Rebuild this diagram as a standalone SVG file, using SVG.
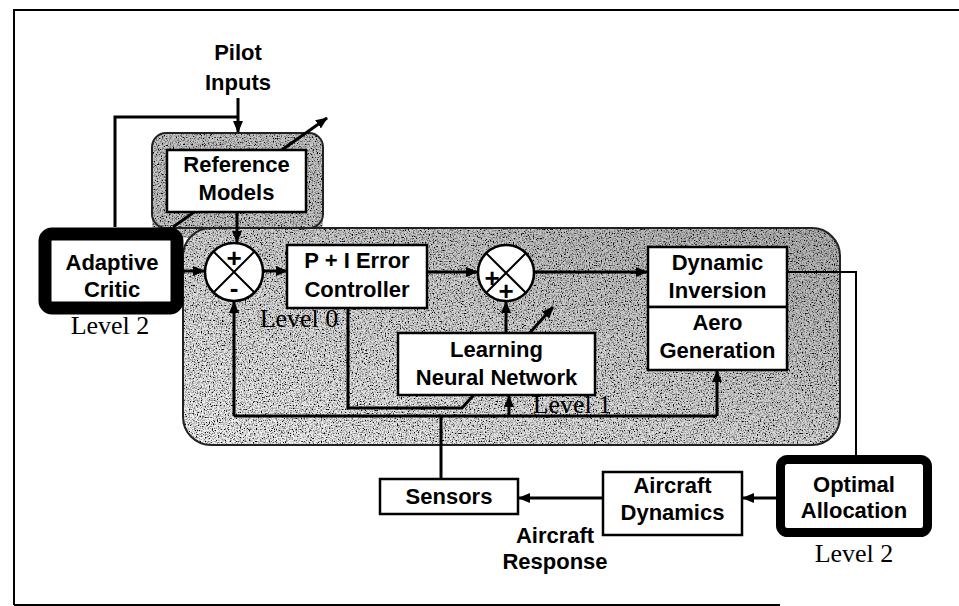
<svg xmlns="http://www.w3.org/2000/svg" width="959" height="606" viewBox="0 0 959 606">
<defs>
<style>
.lbl{font-family:"Liberation Sans",Arial,sans-serif;font-weight:bold;font-size:22px;fill:#000;text-anchor:middle}
.lvl{font-family:"Liberation Serif","Times New Roman",serif;font-size:26px;fill:#000;text-anchor:middle}
.box{fill:#fff;stroke:#000;stroke-width:2.5}
.thick{fill:#fff;stroke:#000;stroke-linejoin:round}
.ln{fill:none;stroke:#000;stroke-width:3}
.thin{fill:none;stroke:#000;stroke-width:2}
.area{stroke:none}
.edge{fill:none;stroke:#222;stroke-width:2}
.sign{font-family:"Liberation Sans",Arial,sans-serif;font-weight:bold;font-size:26px;fill:#000;text-anchor:middle}
</style>
<linearGradient id="shade" x1="0" y1="1" x2="1" y2="0">
<stop offset="0" stop-color="#f6f6f6"/>
<stop offset="0.45" stop-color="#dcdcdc"/>
<stop offset="1" stop-color="#b2b2b2"/>
</linearGradient>
<filter id="grain" x="0" y="0" width="1" height="1">
<feTurbulence type="fractalNoise" baseFrequency="0.75" numOctaves="2" seed="5" result="t"/>
<feColorMatrix in="t" type="matrix" values="1 0 0 0 0 1 0 0 0 0 1 0 0 0 0 0 0 0 0 1" result="g"/>
<feComponentTransfer in="g" result="c"><feFuncR type="linear" slope="3.2" intercept="-0.85"/><feFuncG type="linear" slope="3.2" intercept="-0.85"/><feFuncB type="linear" slope="3.2" intercept="-0.85"/></feComponentTransfer>
<feBlend in="SourceGraphic" in2="c" mode="multiply" result="b"/>
<feComposite in="b" in2="SourceGraphic" operator="in"/>
</filter>
<marker id="ah" markerWidth="12" markerHeight="10" refX="11" refY="5" orient="auto" markerUnits="userSpaceOnUse">
<path d="M0,0 L12,5 L0,10 z" fill="#000"/>
</marker>
</defs>
<rect width="959" height="606" fill="#fff"/>
<g id="frame" class="thin">
<path d="M14,605 V10 H959"/>
<path d="M14,605 H780"/>
</g>
<g id="containers">
<rect class="area" x="152" y="133" width="171" height="105" rx="14" fill="#c8c8c8" filter="url(#grain)"/>
<rect class="area" x="183" y="228" width="657" height="217" rx="28" fill="url(#shade)" filter="url(#grain)"/>
<rect class="edge" x="152" y="133" width="171" height="95" rx="14"/>
<rect class="edge" x="183" y="228" width="657" height="217" rx="28"/>
</g>
<g id="connectors">
<path class="ln" d="M238,98 V132" marker-end="url(#ah)"/>
<path class="ln" d="M115,227 V117 H238"/>
<path class="ln" d="M237,212 V242" marker-end="url(#ah)"/>
<path class="ln" d="M183,271 H204" marker-end="url(#ah)"/>
<path class="ln" d="M263,271 H287" marker-end="url(#ah)"/>
<path class="ln" d="M427,272 H477" marker-end="url(#ah)"/>
<path class="ln" d="M534,272 H647" marker-end="url(#ah)"/>
<path class="thin" d="M787,272 H856 V455"/>
<path class="ln" d="M776,498 H743" marker-end="url(#ah)"/>
<path class="ln" d="M603,498 H519" marker-end="url(#ah)"/>
<path class="ln" d="M441,479 V416"/>
<path class="ln" d="M234,416 H717"/>
<path class="ln" d="M234,416 V302" marker-end="url(#ah)"/>
<path class="ln" d="M509,416 V396" marker-end="url(#ah)"/>
<path class="ln" d="M717,416 V371" marker-end="url(#ah)"/>
<path class="ln" d="M506,333 V302" marker-end="url(#ah)"/>
<path class="ln" d="M348,308 V408 H462 L553,307" marker-end="url(#ah)"/>
<path class="ln" d="M173,227 L327,118" marker-end="url(#ah)"/>
</g>
<g id="pilot-inputs">
<text class="lbl" x="238" y="60">Pilot</text>
<text class="lbl" x="238" y="90">Inputs</text>
</g>
<g id="reference-models">
<rect class="box" x="167" y="150" width="139" height="62"/>
<text class="lbl" x="236.5" y="172">Reference</text>
<text class="lbl" x="236.5" y="200">Models</text>
</g>
<g id="adaptive-critic">
<rect class="thick" x="45" y="234" width="132" height="74" rx="7" stroke-width="13"/>
<text class="lbl" x="112" y="270">Adaptive</text>
<text class="lbl" x="112" y="297">Critic</text>
<text class="lvl" x="110" y="334">Level 2</text>
</g>
<g id="sum1">
<circle cx="234" cy="272" r="29" fill="#fff" stroke="#000" stroke-width="2.5"/>
<path class="thin" d="M213.5,251.5 L254.5,292.5 M254.5,251.5 L213.5,292.5" stroke-width="1.5"/>
<text class="sign" x="234" y="267">+</text>
<text class="sign" x="234" y="297">-</text>
</g>
<g id="pi-controller">
<rect class="box" x="287" y="245" width="140" height="63"/>
<text class="lbl" x="357" y="268">P + I Error</text>
<text class="lbl" x="357" y="297">Controller</text>
<text class="lvl" x="299" y="327">Level 0</text>
</g>
<g id="sum2">
<circle cx="506" cy="273" r="28" fill="#fff" stroke="#000" stroke-width="2.5"/>
<path class="thin" d="M486.2,253.2 L525.8,292.8 M525.8,253.2 L486.2,292.8" stroke-width="1.5"/>
<text class="sign" x="492" y="287">+</text>
<text class="sign" x="506" y="300">+</text>
</g>
<g id="learning-neural-network">
<rect class="box" x="398" y="333" width="197" height="62"/>
<text class="lbl" x="496.5" y="357">Learning</text>
<text class="lbl" x="496.5" y="385">Neural Network</text>
<text class="lvl" x="572" y="413">Level 1</text>
</g>
<g id="dynamic-inversion">
<rect class="box" x="648" y="247" width="139" height="60"/>
<text class="lbl" x="717.5" y="270">Dynamic</text>
<text class="lbl" x="717.5" y="298">Inversion</text>
</g>
<g id="aero-generation">
<rect class="box" x="648" y="307" width="139" height="63"/>
<text class="lbl" x="717.5" y="330">Aero</text>
<text class="lbl" x="717.5" y="358">Generation</text>
</g>
<g id="optimal-allocation">
<rect class="thick" x="780.5" y="459.5" width="147" height="73" rx="7" stroke-width="9"/>
<text class="lbl" x="854" y="492">Optimal</text>
<text class="lbl" x="854" y="518">Allocation</text>
<text class="lvl" x="854" y="562">Level 2</text>
</g>
<g id="aircraft-dynamics">
<rect class="box" x="603" y="472" width="139" height="63"/>
<text class="lbl" x="672.5" y="493">Aircraft</text>
<text class="lbl" x="672.5" y="520">Dynamics</text>
</g>
<g id="sensors">
<rect class="box" x="380" y="479" width="138" height="35"/>
<text class="lbl" x="449" y="504">Sensors</text>
</g>
<g id="aircraft-response">
<text class="lbl" x="555" y="543">Aircraft</text>
<text class="lbl" x="555" y="569">Response</text>
</g>
</svg>
